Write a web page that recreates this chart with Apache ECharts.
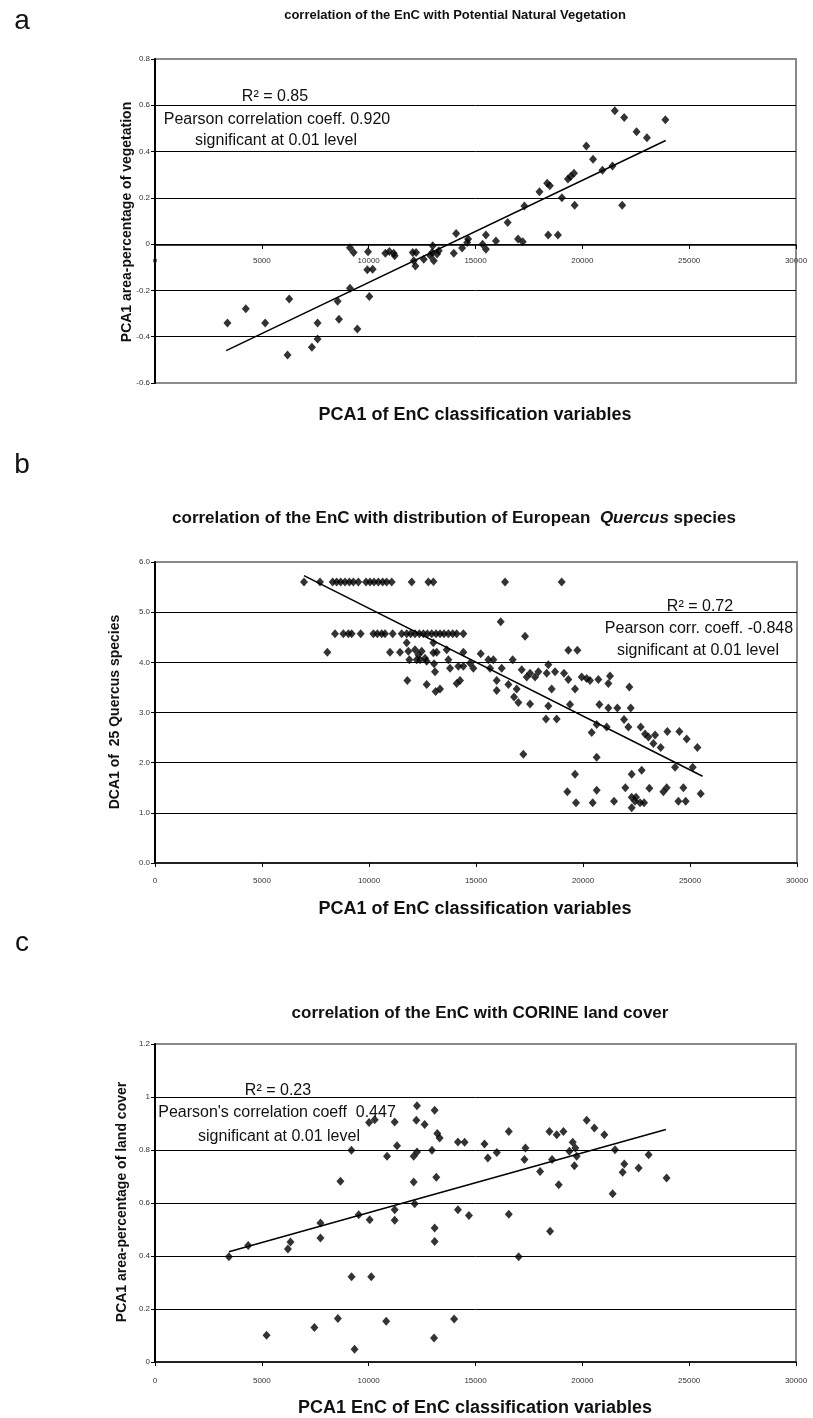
<!DOCTYPE html>
<html><head><meta charset="utf-8">
<script src="https://cdn.jsdelivr.net/npm/echarts@6/dist/echarts.min.js"></script>
<style>html,body{margin:0;padding:0;background:#fff}#c{width:813px;height:1418px}</style>
</head><body><div id="c"></div>
<script>
// ---------- DATA ----------
// Panel a: PCA1 of EnC (x) vs PCA1 area-percentage of vegetation (y)
const vegX = [3390,4250,5156,6281,6203,7609,7609,7343,8547,8609,9125,9469,10031,9125,9297,9969,9937,10187,10781,10969,11172,11219,12062,12219,12109,12187,12578,13000,12969,13047,13203,13281,12890,14094,13984,14375,14609,14656,15330,15487,15487,15957,16506,16991,17211,17289,17994,18355,18480,18402,18856,19044,19326,19451,19608,19640,20188,20501,20940,21410,21520,21959,21865,22538,23024,23886];
const vegY = [-0.341,-0.279,-0.341,-0.237,-0.479,-0.341,-0.41,-0.446,-0.247,-0.324,-0.191,-0.367,-0.226,-0.016,-0.036,-0.033,-0.111,-0.108,-0.039,-0.032,-0.039,-0.05,-0.036,-0.036,-0.072,-0.094,-0.065,-0.007,-0.036,-0.072,-0.043,-0.029,-0.05,0.046,-0.039,-0.017,0.007,0.022,0.0,-0.022,0.039,0.014,0.094,0.022,0.01,0.165,0.226,0.263,0.252,0.039,0.039,0.201,0.281,0.292,0.306,0.168,0.424,0.367,0.319,0.338,0.576,0.547,0.168,0.486,0.46,0.537];
const vegTrendX = [3330, 23900];
const vegTrendY = [-0.46, 0.448];

// Panel b: PCA1 of EnC (x) vs DCA1 of 25 Quercus species (y)
const quercusX = [6962,7710,8302,8489,8676,8879,9081,9268,9502,9860,10047,10234,10437,10639,10826,11060,11995,12774,13007,16357,19004,
 8411,8801,9035,9190,9611,10203,10390,10593,10748,11107,11527,11761,11948,12151,12353,12540,12727,12930,13132,13319,13506,13709,13911,14098,14410,
 8053,10982,11449,11761,11839,11886,12151,12307,12385,12228,12462,12618,12696,13007,13007,13039,13163,13085,13631,13709,13787,11792,12696,13116,13319,14098,14254,14176,14410,14410,14722,14877,15220,15578,15812,15656,16201,15968,15968,16154,16513,16715,16778,16980,16902,17136,17292,17370,17526,17526,17760,17915,18380,18380,18271,18770,
 19315,19736,18303,18692,18536,19113,19315,19627,19939,20172,20328,20717,21185,21263,22166,19393,20764,21185,21606,22229,20640,21107,21918,22120,22696,
 20406,22899,23056,23368,23288,23631,23942,24503,24846,25345,17212,20640,24301,25127,19627,22275,22743,19268,20640,21979,23101,23756,23911,24690,25500,22275,22477,22431,22665,22852,22275,19674,20453,21450,24457,24799];
const quercusY = [5.6,5.6,5.6,5.6,5.6,5.6,5.6,5.6,5.6,5.6,5.6,5.6,5.6,5.6,5.6,5.6,5.6,5.6,5.6,5.6,5.6,
 4.57,4.57,4.57,4.57,4.57,4.57,4.57,4.57,4.57,4.57,4.57,4.57,4.57,4.57,4.57,4.57,4.57,4.57,4.57,4.57,4.57,4.57,4.57,4.57,4.57,
 4.2,4.2,4.2,4.39,4.22,4.05,4.25,4.15,4.05,4.05,4.22,4.08,4.02,4.39,4.19,3.97,4.2,3.81,4.25,4.05,3.88,3.64,3.56,3.42,3.47,3.58,3.64,3.92,4.2,3.92,3.98,3.88,4.17,4.05,4.05,3.88,3.88,3.64,3.44,4.81,3.56,4.05,3.31,3.2,3.47,3.85,4.52,3.71,3.17,3.78,3.71,3.81,3.95,3.13,2.87,2.87,
 4.24,4.24,3.78,3.81,3.47,3.78,3.66,3.47,3.71,3.68,3.64,3.66,3.58,3.73,3.51,3.16,3.16,3.09,3.09,3.09,2.76,2.71,2.86,2.71,2.71,
 2.6,2.57,2.51,2.55,2.38,2.3,2.62,2.62,2.47,2.3,2.17,2.11,1.91,1.91,1.77,1.77,1.85,1.42,1.45,1.5,1.49,1.42,1.5,1.5,1.38,1.31,1.31,1.23,1.2,1.2,1.1,1.2,1.2,1.23,1.23,1.23];
const quercusTrendX = [6960, 25590];
const quercusTrendY = [5.73, 1.73];

// Panel c: PCA1 EnC (x) vs PCA1 area-percentage of land cover (y)
const corineX = [12262,13088,10018,10283,11218,12231,12620,13212,13321,14178,14490,9192,10860,11327,12106,12262,12963,8678,12106,13165,12153,11218,11218,9535,10049,14178,14692,13088,13088,7743,7743,6341,4363,
 20204,20563,21030,16558,18459,18802,19114,15421,15577,15998,17337,17291,18584,19550,19394,19674,19736,19628,18023,18895,21528,21965,21887,22635,23102,23943,21419,16558,18490,
 3460,6220,17020,9200,10120,5220,7460,8560,9340,10820,13060,14000];
const corineY = [0.967,0.95,0.904,0.914,0.906,0.912,0.896,0.862,0.845,0.83,0.829,0.799,0.776,0.816,0.776,0.792,0.799,0.682,0.679,0.697,0.597,0.575,0.535,0.556,0.537,0.575,0.553,0.506,0.455,0.525,0.468,0.453,0.44,
 0.912,0.883,0.858,0.87,0.87,0.858,0.87,0.823,0.77,0.791,0.808,0.764,0.764,0.829,0.795,0.808,0.776,0.741,0.719,0.669,0.801,0.747,0.716,0.732,0.782,0.694,0.635,0.558,0.493,
 0.397,0.426,0.397,0.322,0.322,0.101,0.13,0.164,0.048,0.154,0.091,0.162];
const corineTrendX = [3460, 23910];
const corineTrendY = [0.416, 0.877];

// Axis ranges / tick steps
const xAxisRange = [0, 30000, 5000];
const vegYRange = [-0.6, 0.8, 0.2];
const quercusYRange = [0, 6, 1];
const corineYRange = [0, 1.2, 0.2];

// Texts
const panelLetters = ['a', 'b', 'c'];
const titles = ['correlation of the EnC with Potential Natural Vegetation',
  'correlation of the EnC with distribution of European  ', 'correlation of the EnC with CORINE land cover'];
const xNames = ['PCA1 of EnC classification variables', 'PCA1 of EnC classification variables', 'PCA1 EnC of EnC classification variables'];
const yNames = ['PCA1 area-percentage of vegetation', 'DCA1 of  25 Quercus species', 'PCA1 area-percentage of land cover'];
const notes = [
  ['R² = 0.85', 'Pearson correlation coeff. 0.920', 'significant at 0.01 level'],
  ['R² = 0.72', 'Pearson corr. coeff. -0.848', 'significant at 0.01 level'],
  ['R² = 0.23', "Pearson's correlation coeff  0.447", 'significant at 0.01 level']
];

// ---------- CHART ----------
const zip = (xs, ys) => xs.map((x, i) => [x, ys[i]]);
const FONT = '"Liberation Sans", Arial, sans-serif';
const NARROW = '"Liberation Sans Narrow", "Liberation Sans", Arial, sans-serif';
const general = v => String(parseFloat(v.toFixed(2)));

const grids = [
  { left: 155, top: 59, width: 641, height: 324 },
  { left: 155, top: 562, width: 642, height: 301 },
  { left: 155, top: 1044, width: 641, height: 318 }
].map(g => Object.assign(g, { show: true, borderColor: '#8a8a8a', borderWidth: 2, backgroundColor: '#fff' }));

function xAxisFor(i, offset, margin) {
  return {
    type: 'value', gridIndex: i, min: xAxisRange[0], max: xAxisRange[1], interval: xAxisRange[2],
    offset: offset || 0,
    axisLine: { onZero: false, lineStyle: { color: '#000', width: 1.5 } },
    axisTick: { show: true, length: 4, lineStyle: { color: '#000', width: 1 } },
    axisLabel: { fontSize: 8, color: '#333', fontFamily: FONT, margin: margin, formatter: v => String(v) },
    splitLine: { show: false }
  };
}
function yAxisFor(i, r, fmt) {
  return {
    type: 'value', gridIndex: i, min: r[0], max: r[1], interval: r[2],
    axisLine: { show: true, lineStyle: { color: '#000', width: 2 } },
    axisTick: { show: true, length: 4, lineStyle: { color: '#000', width: 1 } },
    axisLabel: { fontSize: 8, color: '#333', fontFamily: FONT, margin: 5, formatter: fmt },
    splitLine: { show: true, showMinLine: false, showMaxLine: false, lineStyle: { color: '#000', width: 1 } }
  };
}
function scatter(i, xs, ys) {
  return { type: 'scatter', xAxisIndex: i, yAxisIndex: i, data: zip(xs, ys), symbol: 'diamond',
    symbolSize: [8, 9], itemStyle: { color: '#000' }, z: 3 };
}
function trend(i, xs, ys) {
  return { type: 'line', xAxisIndex: i, yAxisIndex: i, data: zip(xs, ys), showSymbol: false, symbol: 'none',
    lineStyle: { color: '#000', width: 1.5 }, z: 4 };
}

function txt(x, y, text, size, weight, family, extra) {
  return Object.assign({ type: 'text', x: x, y: y, z: 10,
    style: { text: text, fontSize: size, fontWeight: weight || 'normal', fontFamily: family || FONT,
      fill: '#111', align: 'center', verticalAlign: 'middle' } }, extra || {});
}

const letterPos = [[22, 21], [22, 465], [22, 943]];
const titlePos = [[455, 15], [454, 518], [480, 1013]];
const xNamePos = [[475, 415], [475, 909], [475, 1408]];
const yNamePos = [[127, 222], [115, 712], [122, 1202]];
const notePos = [
  [[275, 97], [277, 120], [276, 141]],
  [[700, 607], [699, 629], [698, 651]],
  [[278, 1091], [277, 1113], [279, 1137]]
];

const graphics = [];
panelLetters.forEach((l, i) => graphics.push(txt(letterPos[i][0], letterPos[i][1], l, 28, 'normal')));
graphics.push(txt(titlePos[0][0], titlePos[0][1], titles[0], 13, 'bold'));
graphics.push({ type: 'text', x: titlePos[1][0], y: titlePos[1][1], z: 10,
  style: { text: '{b|' + titles[1] + '}{i|Quercus}{b| species}', align: 'center', verticalAlign: 'middle',
    rich: { b: { fontSize: 17, fontWeight: 'bold', fontFamily: FONT, fill: '#111', color: '#111' },
            i: { fontSize: 17, fontWeight: 'bold', fontStyle: 'italic', fontFamily: FONT, fill: '#111', color: '#111' } } } });
graphics.push(txt(titlePos[2][0], titlePos[2][1], titles[2], 17, 'bold'));
xNames.forEach((n, i) => graphics.push(txt(xNamePos[i][0], xNamePos[i][1], n, 18, 'bold')));
yNames.forEach((n, i) => graphics.push(txt(yNamePos[i][0], yNamePos[i][1], n, 14, 'bold', FONT, { rotation: Math.PI / 2 })));
notes.forEach((arr, i) => arr.forEach((n, j) => graphics.push(txt(notePos[i][j][0], notePos[i][j][1], n, 16, 'normal', NARROW))));

const chart = echarts.init(document.getElementById('c'), null, { renderer: 'canvas' });
chart.setOption({
  animation: false,
  backgroundColor: '#fff',
  grid: grids,
  xAxis: [xAxisFor(0, -138, 12), xAxisFor(1, 0, 14), xAxisFor(2, 0, 15)],
  yAxis: [yAxisFor(0, vegYRange, general), yAxisFor(1, quercusYRange, v => v.toFixed(1)), yAxisFor(2, corineYRange, general)],
  series: [
    scatter(0, vegX, vegY), trend(0, vegTrendX, vegTrendY),
    scatter(1, quercusX, quercusY), trend(1, quercusTrendX, quercusTrendY),
    scatter(2, corineX, corineY), trend(2, corineTrendX, corineTrendY)
  ],
  graphic: graphics
});
</script></body></html>
